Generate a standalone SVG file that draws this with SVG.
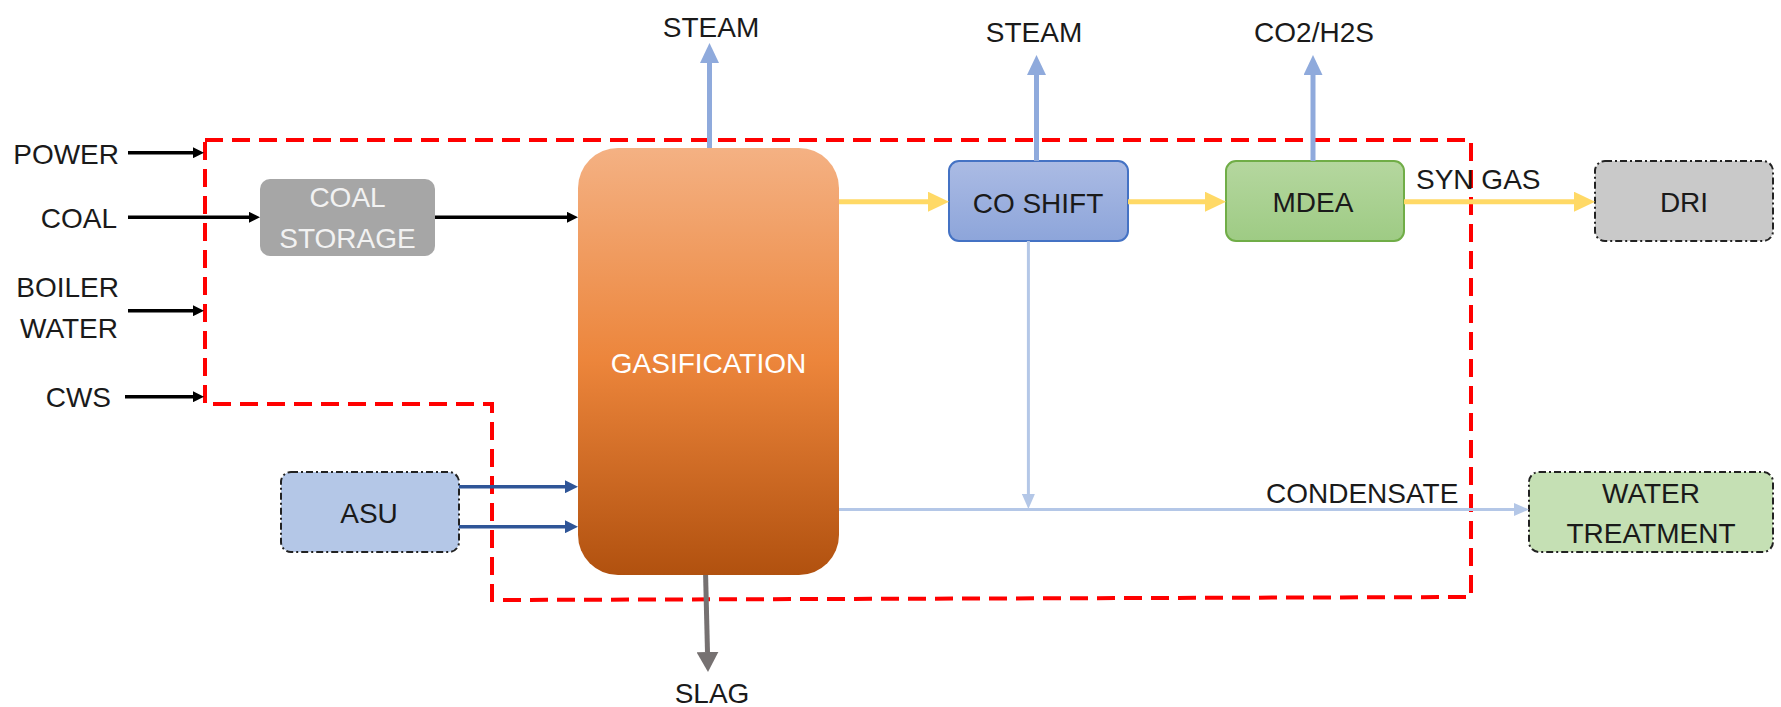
<svg xmlns="http://www.w3.org/2000/svg" width="1781" height="707" viewBox="0 0 1781 707">
<style>
text{font-family:"Liberation Sans",Arial,sans-serif;font-size:28px;fill:#1a1a1a}
.c{text-anchor:middle}
.e{text-anchor:end}
.w{fill:#f2f2f2}
.dd{stroke:#222;stroke-width:2;stroke-dasharray:7 3 2 3}
.blk{stroke:#000;stroke-width:3.5;fill:none}
.stm{stroke:#8faadc;stroke-width:5;fill:none}
.yel{stroke:#ffd966;stroke-width:5;fill:none}
.asu{stroke:#2f5597;stroke-width:3.5;fill:none}
.cnd{stroke:#b4c7e7;stroke-width:3;fill:none}
.slg{stroke:#767171;stroke-width:5;fill:none}
</style>
<defs>
<linearGradient id="gGas" x1="0" y1="0" x2="0" y2="1">
<stop offset="0" stop-color="#f4b183"/>
<stop offset="0.5" stop-color="#ec853b"/>
<stop offset="1" stop-color="#b1510f"/>
</linearGradient>
<linearGradient id="gCo" x1="0" y1="0" x2="0" y2="1">
<stop offset="0" stop-color="#abbbe4"/>
<stop offset="1" stop-color="#8da5da"/>
</linearGradient>
<linearGradient id="gMd" x1="0" y1="0" x2="0" y2="1">
<stop offset="0" stop-color="#b5d79f"/>
<stop offset="1" stop-color="#9ecb84"/>
</linearGradient>
<marker id="mBlk" markerUnits="userSpaceOnUse" markerWidth="11" markerHeight="11" refX="0" refY="5.5" orient="auto"><path d="M0,0 L11,5.5 L0,11 Z" fill="#000"/></marker>
<marker id="mStm" markerUnits="userSpaceOnUse" markerWidth="20" markerHeight="19" refX="0" refY="9.5" orient="auto"><path d="M0,0 L20,9.5 L0,19 Z" fill="#8faadc"/></marker>
<marker id="mYel" markerUnits="userSpaceOnUse" markerWidth="21" markerHeight="20" refX="0" refY="10" orient="auto"><path d="M0,0 L21,10 L0,20 Z" fill="#ffd966"/></marker>
<marker id="mAsu" markerUnits="userSpaceOnUse" markerWidth="13" markerHeight="13" refX="0" refY="6.5" orient="auto"><path d="M0,0 L13,6.5 L0,13 Z" fill="#2f5597"/></marker>
<marker id="mCnd" markerUnits="userSpaceOnUse" markerWidth="15" markerHeight="13" refX="0" refY="6.5" orient="auto"><path d="M0,0 L15,6.5 L0,13 Z" fill="#b4c7e7"/></marker>
<marker id="mSlg" markerUnits="userSpaceOnUse" markerWidth="20" markerHeight="22" refX="0" refY="11" orient="auto"><path d="M0,0 L20,11 L0,22 Z" fill="#767171"/></marker>
</defs>
<rect width="1781" height="707" fill="#fff"/>

<g id="boundary">
<path d="M205,140 L1471,140 L1471,597 L492,600 L492,404 L205,404 Z" fill="none" stroke="#ff0000" stroke-width="4" stroke-dasharray="18 9"/>
</g>

<g id="labels">
<text class="e" x="119" y="164">POWER</text>
<text class="e" x="117" y="228">COAL</text>
<text class="e" x="119" y="297">BOILER</text>
<text class="e" x="118" y="338">WATER</text>
<text class="e" x="111" y="407">CWS</text>
<text class="c" x="711" y="37">STEAM</text>
<text class="c" x="1034" y="42">STEAM</text>
<text class="c" x="1314" y="42">CO2/H2S</text>
<text x="1416" y="189">SYN GAS</text>
<text x="1266" y="503">CONDENSATE</text>
<text class="c" x="712" y="703">SLAG</text>
</g>

<g id="coal-storage">
<rect x="260" y="179" width="175" height="77" rx="10" fill="#a6a6a6"/>
<text class="c w" x="347.5" y="207">COAL</text>
<text class="c w" x="347.5" y="248">STORAGE</text>
</g>

<g id="gasification">
<rect x="578" y="148" width="261" height="427" rx="40" fill="url(#gGas)"/>
<text class="c" x="708.5" y="373" style="fill:#fff">GASIFICATION</text>
</g>

<g id="co-shift">
<rect x="949" y="161" width="179" height="80" rx="10" fill="url(#gCo)" stroke="#4472c4" stroke-width="2"/>
<text class="c" x="1038" y="213">CO SHIFT</text>
</g>

<g id="mdea">
<rect x="1226" y="161" width="178" height="80" rx="10" fill="url(#gMd)" stroke="#70ad47" stroke-width="2"/>
<text class="c" x="1313" y="212">MDEA</text>
</g>

<g id="dri">
<rect x="1595" y="161" width="178" height="80" rx="10" fill="#c9c9c9" class="dd"/>
<text class="c" x="1684" y="212">DRI</text>
</g>

<g id="asu">
<rect x="281" y="472" width="178" height="80" rx="10" fill="#b4c7e7" class="dd"/>
<text class="c" x="369" y="523">ASU</text>
</g>

<g id="water-treatment">
<rect x="1529" y="472" width="244" height="80" rx="10" fill="#c5e0b4" class="dd"/>
<text class="c" x="1651" y="503">WATER</text>
<text class="c" x="1651" y="543">TREATMENT</text>
</g>

<g id="connectors">
<line class="blk" x1="128" y1="152.7" x2="193" y2="152.7" marker-end="url(#mBlk)"/>
<line class="blk" x1="128" y1="217.3" x2="249" y2="217.3" marker-end="url(#mBlk)"/>
<line class="blk" x1="128" y1="310.7" x2="193" y2="310.7" marker-end="url(#mBlk)"/>
<line class="blk" x1="125" y1="396.7" x2="193" y2="396.7" marker-end="url(#mBlk)"/>
<line class="blk" x1="435" y1="217.3" x2="567" y2="217.3" marker-end="url(#mBlk)"/>
<line class="stm" x1="709.5" y1="148" x2="709.5" y2="63" marker-end="url(#mStm)"/>
<line class="stm" x1="1036.5" y1="161" x2="1036.5" y2="75" marker-end="url(#mStm)"/>
<line class="stm" x1="1313" y1="161" x2="1313" y2="75" marker-end="url(#mStm)"/>
<line class="yel" x1="839" y1="201.7" x2="928" y2="201.7" marker-end="url(#mYel)"/>
<line class="yel" x1="1128" y1="201.7" x2="1205" y2="201.7" marker-end="url(#mYel)"/>
<line class="yel" x1="1404" y1="201.7" x2="1574" y2="201.7" marker-end="url(#mYel)"/>
<line class="asu" x1="459" y1="486.7" x2="565" y2="486.7" marker-end="url(#mAsu)"/>
<line class="asu" x1="459" y1="526.7" x2="565" y2="526.7" marker-end="url(#mAsu)"/>
<line class="slg" x1="705.6" y1="575" x2="707.5" y2="652" marker-end="url(#mSlg)"/>
<line class="cnd" x1="1028.4" y1="241" x2="1028.4" y2="494" marker-end="url(#mCnd)"/>
<line class="cnd" x1="839" y1="509.5" x2="1514" y2="509.5" marker-end="url(#mCnd)"/>
</g>
</svg>
